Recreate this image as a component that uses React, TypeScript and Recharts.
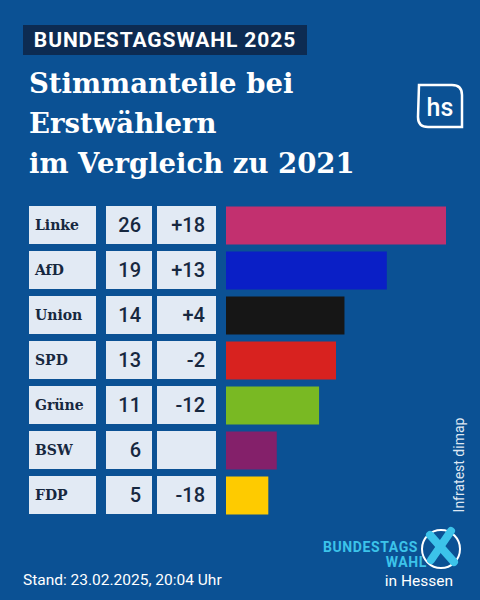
import { BarChart, Bar, XAxis, YAxis, Cell } from 'recharts';

const parties = ['Linke', 'AfD', 'Union', 'SPD', 'Grüne', 'BSW', 'FDP'];
const shares = [26, 19, 14, 13, 11, 6, 5];
const changes = ['+18', '+13', '+4', '-2', '-12', '', '-18'];
const partyColors = ['#c2306f', '#0a1fc6', '#161616', '#d8221f', '#79b923', '#84206a', '#fecb00'];

const BG = '#0b5194';
const CELL = '#e2eaf4';
const INK = '#172840';

const data = parties.map((party, i) => ({
  party,
  share: shares[i],
  change: changes[i],
}));

// table cells to the left of each bar, drawn as the category tick
const TableTick = (props: any) => {
  const { y, payload } = props;
  const row = data[payload.index];
  const h = 38;
  const top = y - h / 2;
  return (
    <g>
      <rect x={29} y={top} width={67} height={h} fill={CELL} />
      <rect x={106} y={top} width={46} height={h} fill={CELL} />
      <rect x={157} y={top} width={59} height={h} fill={CELL} />
      <text x={35} y={y + 5} fill={INK} fontFamily="DejaVu Serif" fontWeight="bold" fontSize={14}>
        {row.party}
      </text>
      <text x={141} y={y + 7} fill={INK} fontFamily="Roboto" fontWeight={500} fontSize={20} textAnchor="end">
        {row.share}
      </text>
      <text x={205} y={y + 7} fill={INK} fontFamily="Roboto" fontWeight={500} fontSize={20} textAnchor="end">
        {row.change}
      </text>
    </g>
  );
};

export default function App() {
  return (
    <div style={{ position: 'absolute', left: 0, top: 0, width: 480, height: 600, background: BG, overflow: 'hidden' }}>
      <div
        style={{
          position: 'absolute', left: 23, top: 25, width: 284, height: 30, background: '#0d2b52',
          color: '#fff', fontFamily: 'Roboto', fontWeight: 700, fontSize: 21, letterSpacing: 0.9,
          lineHeight: '30px', textAlign: 'center',
        }}
      >
        BUNDESTAGSWAHL 2025
      </div>
      <div
        style={{
          position: 'absolute', left: 29, top: 63, color: '#fff', fontFamily: 'DejaVu Serif',
          fontWeight: 700, fontSize: 27.5, lineHeight: '40px',
        }}
      >
        Stimmanteile bei
        <br />
        Erstwählern
        <br />
        im Vergleich zu 2021
      </div>
      <svg style={{ position: 'absolute', left: 416, top: 83 }} width={48} height={48}>
        <path d="M3 2 H36 Q46 2 46 12 V44 H12 Q2 44 2 34 Z" fill="none" stroke="#fff" strokeWidth={2.5} />
        <text x={24} y={33} fill="#fff" fontFamily="Roboto" fontWeight={500} fontSize={25} textAnchor="middle">hs</text>
      </svg>

      <div style={{ position: 'absolute', left: 0, top: 0 }}>
        <BarChart
          width={480}
          height={600}
          data={data}
          layout="vertical"
          margin={{ top: 202.5, right: 0.15, bottom: 82.5, left: 26 }}
        >
          <XAxis type="number" domain={[0, 30]} hide />
          <YAxis
            type="category"
            dataKey="party"
            width={200}
            axisLine={false}
            tickLine={false}
            tick={<TableTick />}
            interval={0}
          />
          <Bar dataKey="share" barSize={38} isAnimationActive={false}>
            {data.map((d, i) => (
              <Cell key={d.party} fill={partyColors[i]} />
            ))}
          </Bar>
        </BarChart>
      </div>

      <div
        style={{
          position: 'absolute', left: 459, top: 465, transform: 'translate(-50%, -50%) rotate(-90deg)',
          color: '#dfe7f2', fontFamily: 'Roboto', fontSize: 14, whiteSpace: 'nowrap',
        }}
      >
        Infratest dimap
      </div>

      <div
        style={{
          position: 'absolute', left: 23, top: 571, color: '#fff', fontFamily: 'Roboto',
          fontSize: 15.5, whiteSpace: 'nowrap',
        }}
      >
        Stand: 23.02.2025, 20:04 Uhr
      </div>

      <svg style={{ position: 'absolute', left: 300, top: 520 }} width={180} height={80}>
        <circle cx={141} cy={29} r={19} fill="none" stroke="#fff" strokeWidth={2} />
        <g stroke="#3cc3ea" strokeWidth={8} strokeLinecap="round">
          <line x1={130} y1={15} x2={154} y2={42} />
          <line x1={151} y1={11} x2={131} y2={40} />
        </g>
        <text x={118} y={32} fill="#3cc3ea" fontFamily="Roboto" fontWeight={700} fontSize={14} letterSpacing={0.6} textAnchor="end">BUNDESTAGS</text>
        <text x={127} y={47} fill="#3cc3ea" fontFamily="Roboto" fontWeight={700} fontSize={14} letterSpacing={0.6} textAnchor="end">WAHL</text>
        <text x={153} y={66} fill="#fff" fontFamily="Roboto" fontSize={15.5} textAnchor="end">in Hessen</text>
      </svg>
    </div>
  );
}
